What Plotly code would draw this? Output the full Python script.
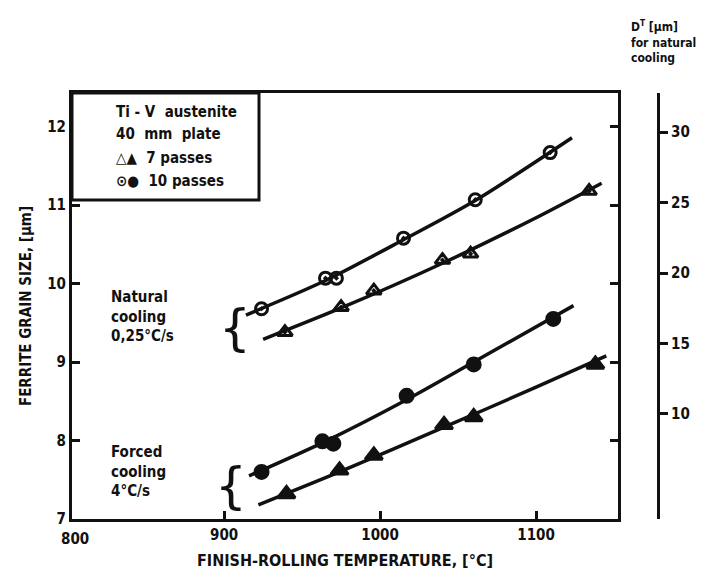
import plotly.graph_objects as go

# ---- data ----
# Natural cooling (0.25 C/s), open symbols
nat10_T = [924, 965, 972, 1015, 1061, 1109]
nat10_D = [9.68, 10.07, 10.07, 10.58, 11.07, 11.67]
nat7_T = [939, 975, 996, 1040, 1058, 1134]
nat7_D = [9.38, 9.70, 9.91, 10.30, 10.38, 11.18]
# Forced cooling (4 C/s), filled symbols
for10_T = [924, 963, 970, 1017, 1060, 1111]
for10_D = [7.60, 7.99, 7.96, 8.57, 8.97, 9.55]
for7_T = [940, 974, 996, 1041, 1060, 1138]
for7_D = [7.32, 7.62, 7.81, 8.20, 8.30, 8.97]

# hand-drawn trend curves
nat10_curve_T = [914, 965, 1015, 1061, 1123]
nat10_curve_D = [9.60, 10.04, 10.56, 11.06, 11.86]
nat7_curve_T = [925, 975, 1040, 1100, 1142]
nat7_curve_D = [9.29, 9.69, 10.26, 10.84, 11.28]
for10_curve_T = [916, 966, 1017, 1060, 1124]
for10_curve_D = [7.55, 8.00, 8.52, 9.00, 9.72]
for7_curve_T = [922, 974, 1041, 1100, 1145]
for7_curve_D = [7.18, 7.60, 8.17, 8.68, 9.08]

x_ticks = [900, 1000, 1100]
y_ticks = [7, 8, 9, 10, 11, 12]
dT_ticks = [10, 15, 20, 25, 30]

FONT = "DejaVu Sans Condensed"
BLACK = "#111111"

fig = go.Figure()

for cx, cy in [(nat10_curve_T, nat10_curve_D), (nat7_curve_T, nat7_curve_D),
               (for10_curve_T, for10_curve_D), (for7_curve_T, for7_curve_D)]:
    fig.add_trace(go.Scatter(x=cx, y=cy, mode="lines",
                             line=dict(color=BLACK, width=3.5, shape="spline", smoothing=0.8),
                             hoverinfo="skip", showlegend=False))

marker_sets = [
    (nat10_T, nat10_D, "circle-open-dot", 12),
    (nat7_T, nat7_D, "triangle-up-open-dot", 13),
    (for10_T, for10_D, "circle", 13),
    (for7_T, for7_D, "triangle-up", 15),
]
for mx, my, sym, sz in marker_sets:
    fig.add_trace(go.Scatter(x=mx, y=my, mode="markers",
                             marker=dict(symbol=sym, size=sz, color=BLACK,
                                         line=dict(color=BLACK, width=3)),
                             showlegend=False))

# invisible trace to activate the secondary (D^T) axis
fig.add_trace(go.Scatter(x=[None], y=[None], yaxis="y2", showlegend=False))

W, H = 707, 577
L, R, T, B = 64, 17, 85, 66
pw = W - L - R
ph = H - T - B
x_end = (610 - L) / pw
y2_pos = (650 - L) / pw

axis_font = dict(family=FONT, size=15, color=BLACK, weight="bold")
title_font = dict(family=FONT, size=16, color=BLACK, weight="bold")

fig.update_layout(
    width=W, height=H,
    margin=dict(l=L, r=R, t=T, b=B, autoexpand=False),
    paper_bgcolor="white", plot_bgcolor="white",
    font=dict(family=FONT, color=BLACK),
    xaxis=dict(domain=[0, x_end], range=[802.5, 1152.5], automargin=False,
               tickvals=x_ticks, ticktext=[str(v) for v in x_ticks],
               ticks="inside", ticklen=8, tickwidth=2.5, tickcolor=BLACK,
               showline=True, linewidth=3, linecolor=BLACK, mirror=True,
               showgrid=False, zeroline=False, tickfont=axis_font,
               title=dict(text="FINISH-ROLLING TEMPERATURE, [°C]", font=title_font, standoff=12)),
    yaxis=dict(range=[7, 12.43], tickvals=y_ticks, automargin=False,
               ticks="inside", ticklen=8, tickwidth=2.5, tickcolor=BLACK,
               showline=True, linewidth=3, linecolor=BLACK, mirror="ticks",
               showgrid=False, zeroline=False, tickfont=axis_font,
               title=dict(text="FERRITE GRAIN SIZE, [μm]", font=axis_font, standoff=12)),
    yaxis2=dict(overlaying="y", anchor="free", position=y2_pos, side="right",
                automargin=False,
                range=[2.55, 32.77], tickvals=dT_ticks,
                ticks="outside", ticklen=8, tickwidth=2.5, tickcolor=BLACK,
                showline=True, linewidth=3, linecolor=BLACK,
                showgrid=False, zeroline=False, tickfont=axis_font),
)


def px_x(x):
    return (x - L) / pw


def px_y(y):
    return 1 - (y - T) / ph


# legend box
fig.add_shape(type="rect", xref="paper", yref="paper", x0=0, x1=px_x(251), y0=px_y(192), y1=1,
              line=dict(color=BLACK, width=3), fillcolor="white", layer="above")

txt_font = dict(family=FONT, size=15, color=BLACK, weight="bold")
legend_lines = [
    ("Ti - V  austenite", 104),
    ("40  mm  plate", 126),
    ("△▲  7 passes", 150),
    ("⊙●  10 passes", 173),
]
for t, y in legend_lines:
    fig.add_annotation(xref="paper", yref="paper", x=px_x(106), y=px_y(y), text=t,
                       showarrow=False, xanchor="left", yanchor="middle", font=txt_font)

# region labels
region_font = dict(family=FONT, size=15, color=BLACK, weight="bold")
fig.add_annotation(xref="paper", yref="paper", x=px_x(101), y=px_y(308),
                   text="Natural<br>cooling<br>0,25°C/s", align="left",
                   showarrow=False, xanchor="left", yanchor="middle", font=region_font)
fig.add_annotation(xref="paper", yref="paper", x=px_x(101), y=px_y(463),
                   text="Forced<br>cooling<br>4°C/s", align="left",
                   showarrow=False, xanchor="left", yanchor="middle", font=region_font)
for bx, by in [(227, 320), (223, 478)]:
    fig.add_annotation(xref="paper", yref="paper", x=px_x(bx), y=px_y(by), text="{",
                       showarrow=False, xanchor="center", yanchor="middle",
                       font=dict(family="DejaVu Sans", size=50, color=BLACK))

# label at the origin
fig.add_annotation(xref="paper", yref="paper", x=px_x(67), y=px_y(531), text="800",
                   showarrow=False, xanchor="center", yanchor="middle", font=axis_font)

# right-axis title
fig.add_annotation(xref="paper", yref="paper", x=px_x(621), y=px_y(34),
                   text="D<sup>T</sup> [μm]<br>for natural<br>cooling", align="left",
                   showarrow=False, xanchor="left", yanchor="middle",
                   font=dict(family=FONT, size=12, color=BLACK, weight="bold"))

fig.write_html("out.html")
